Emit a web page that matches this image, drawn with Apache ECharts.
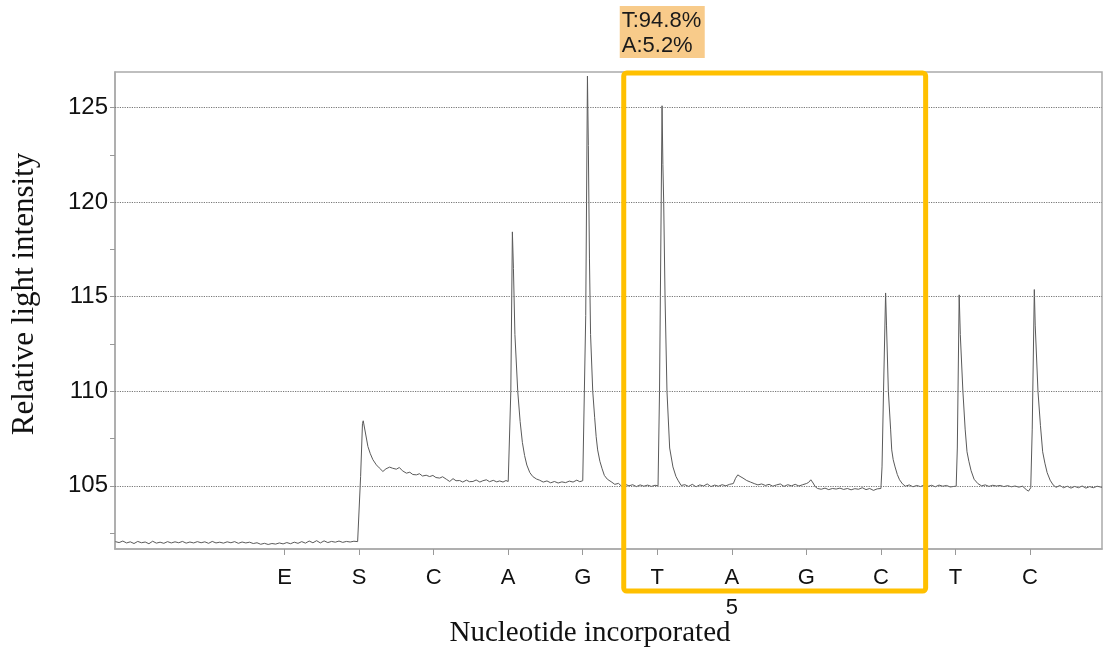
<!DOCTYPE html>
<html>
<head>
<meta charset="utf-8">
<script src="https://cdn.jsdelivr.net/npm/echarts@6/dist/echarts.min.js"></script>
<style>
html,body{margin:0;padding:0;background:#fff;}
#chart{width:1104px;height:650px;}
</style>
</head>
<body>
<div id="chart"></div>
<script>
// ---------- data ----------
const categories = ['E','S','C','A','G','T','A','G','C','T','C'];
const dispensationNumbers = ['', '', '', '', '', '', '5', '', '', '', ''];
const yMajorTicks = [105, 110, 115, 120, 125];
const yMinorTicks = [102.5, 107.5, 112.5, 117.5, 122.5];
const xRange = [-2.275, 10.966];
const yRange = [101.66, 126.885];
const highlightRange = [4.55, 8.6];
const highlightText = ['T:94.8%', 'A:5.2%'];
const xAxisTitle = 'Nucleotide incorporated';
const yAxisTitle = 'Relative light intensity';

// trace [position, intensity]
const tracePreS = [
[-2.27,102.05],[-2.22,102.0],[-2.17,102.08],[-2.12,101.98],[-2.07,102.04],[-2.02,101.95],[-1.97,102.06],[-1.92,101.99],
[-1.87,102.03],[-1.82,101.94],[-1.77,102.07],[-1.72,101.97],[-1.67,102.02],[-1.62,101.96],[-1.57,102.05],[-1.52,101.98],
[-1.47,102.04],[-1.42,101.99],[-1.37,102.06],[-1.32,101.97],[-1.27,102.03],[-1.22,101.98],[-1.17,102.05],[-1.12,101.99],
[-1.07,102.04],[-1.02,101.96],[-0.97,102.06],[-0.92,101.98],[-0.87,102.02],[-0.82,101.97],[-0.77,102.04],[-0.72,101.99],
[-0.67,102.05],[-0.62,101.96],[-0.57,102.03],[-0.52,101.98],[-0.47,102.02],[-0.42,101.95],[-0.37,101.99],[-0.32,101.91],
[-0.27,101.96],[-0.22,101.9],[-0.17,101.95],[-0.12,101.92],[-0.07,101.98],[-0.02,101.93],[0.03,102.0],[0.08,101.94],
[0.13,102.02],[0.18,101.96],[0.23,102.05],[0.28,101.97],[0.33,102.08],[0.38,101.99],[0.43,102.1],[0.48,101.98],
[0.53,102.09],[0.58,102.0],[0.63,102.06],[0.68,102.02],[0.73,102.08],[0.78,102.01],[0.83,102.06],[0.88,102.03],
[0.93,102.07],[0.98,102.05]
];
const traceS = [
[1.0,102.06],[1.02,105.5],[1.045,108.3],[1.055,108.44],[1.08,107.9],[1.118,107.08],[1.15,106.7],[1.185,106.38],
[1.231,106.11],[1.27,105.95],[1.319,105.76],[1.36,105.9],[1.409,105.99],[1.45,105.93],[1.499,105.88],[1.54,105.97],
[1.58,105.8],[1.634,105.67],[1.68,105.72],[1.72,105.6],[1.768,105.58],[1.81,105.64],[1.85,105.52],[1.9,105.56],
[1.946,105.49],[1.99,105.55],[2.03,105.44],[2.081,105.41],[2.12,105.48],[2.17,105.35],[2.215,105.23],[2.26,105.38],
[2.3,105.27],[2.349,105.28],[2.39,105.2],[2.44,105.3],[2.48,105.22],[2.527,105.23],[2.57,105.31],[2.62,105.2],
[2.66,105.27],[2.707,105.32],[2.75,105.22],[2.8,105.29],[2.846,105.21],[2.886,105.26],[2.93,105.2],[2.97,105.28],[3.0,105.23]
];
const traceA = [
[3.02,105.22],[3.035,110],[3.056,118.43],[3.07,116.5],[3.09,113],[3.128,110],[3.16,108.4],[3.19,107.3],
[3.22,106.6],[3.25,106.1],[3.29,105.7],[3.33,105.49],[3.38,105.36],[3.42,105.3],[3.47,105.2],[3.52,105.26],
[3.57,105.16],[3.62,105.23],[3.67,105.15],[3.72,105.21],[3.77,105.17],[3.82,105.25],[3.87,105.2],[3.92,105.3],
[3.96,105.22],[4.0,105.27],[4.025,105.24]
];
const traceG = [
[4.04,114],[4.063,126.67],[4.075,123],[4.09,117],[4.105,113],[4.134,110],[4.16,108.6],[4.18,107.6],
[4.2,106.9],[4.23,106.3],[4.26,105.9],[4.29,105.55],[4.33,105.35],[4.38,105.22],[4.43,105.08],[4.48,105.13],
[4.52,104.98],[4.57,105.08],[4.62,105.0],[4.67,105.06],[4.72,104.96],[4.77,105.05],[4.82,104.98],[4.87,105.04],
[4.92,104.97],[4.97,105.03],[5.01,105.0]
];
const traceT = [
[5.03,110],[5.064,125.1],[5.075,122],[5.086,120],[5.104,115],[5.13,110],[5.166,107],[5.21,106],
[5.25,105.5],[5.277,105.3],[5.32,105.02],[5.37,105.06],[5.42,104.97],[5.47,105.08],[5.52,104.95],[5.57,105.05],
[5.62,104.99],[5.67,105.1],[5.72,104.96],[5.77,105.04],[5.82,104.98],[5.87,105.06],[5.92,105.0],[5.97,105.08]
];
const traceAG = [
[6.02,105.12],[6.05,105.4],[6.08,105.58],[6.11,105.5],[6.15,105.41],[6.2,105.28],[6.25,105.2],[6.3,105.12],
[6.35,105.05],[6.4,105.1],[6.45,105.02],[6.5,105.08],[6.55,104.98],[6.6,105.05],[6.65,105.1],[6.7,104.97],
[6.75,105.06],[6.8,105.0],[6.85,105.08],[6.9,104.99],[6.95,105.06],[7.0,105.12],[7.03,105.18],[7.06,105.32],
[7.09,105.15],[7.12,104.95],[7.15,104.86],[7.2,104.82],[7.25,104.88],[7.3,104.8],[7.35,104.86],[7.4,104.83],
[7.45,104.88],[7.5,104.81],[7.55,104.86],[7.6,104.79],[7.65,104.85],[7.7,104.82],[7.75,104.9],[7.8,104.8],
[7.85,104.86],[7.9,104.76],[7.95,104.84],[8.0,104.86]
];
const traceC = [
[8.015,106],[8.035,110],[8.063,115.2],[8.075,113.5],[8.1,110],[8.13,108],[8.145,106.9],[8.165,106.38],
[8.19,106.0],[8.22,105.6],[8.25,105.32],[8.29,105.1],[8.33,104.98],[8.38,105.05],[8.43,104.95],[8.48,105.02],
[8.53,104.96],[8.58,105.04],[8.63,104.97],[8.68,105.03],[8.73,104.95],[8.78,105.04],[8.83,104.98],[8.88,105.02],
[8.93,104.94],[8.98,104.97],[9.01,104.98]
];
const traceT9 = [
[9.025,107],[9.05,115.1],[9.065,113],[9.1,110],[9.13,108],[9.155,106.8],[9.18,106.3],[9.21,105.8],
[9.25,105.35],[9.3,105.12],[9.35,105.0],[9.4,105.05],[9.45,104.97],[9.5,105.03],[9.55,104.99],[9.6,105.02],
[9.65,104.96],[9.7,105.01],[9.75,104.95],[9.8,104.99],[9.85,104.93],[9.9,104.98],[9.95,104.8],[9.98,104.72],[10.01,104.9]
];
const traceC10 = [
[10.03,108],[10.058,115.38],[10.07,113.5],[10.107,110],[10.14,108.2],[10.17,106.8],[10.2,106.2],[10.23,105.7],
[10.27,105.3],[10.31,105.05],[10.35,104.92],[10.4,105.02],[10.45,104.9],[10.5,104.98],[10.55,104.88],[10.6,104.97],
[10.65,104.9],[10.7,104.99],[10.75,104.88],[10.8,104.96],[10.85,104.9],[10.9,104.98],[10.966,104.92]
];

const trace = [].concat(tracePreS, traceS, traceA, traceG, traceT, traceAG, traceC, traceT9, traceC10);

// ---------- chart ----------
const chart = echarts.init(document.getElementById('chart'), null, {renderer: 'canvas'});
const sans = 'Liberation Sans, Arial, sans-serif';
const serif = 'Liberation Serif, Times New Roman, serif';

chart.setOption({
  animation: false,
  backgroundColor: '#fff',
  grid: {left: 115, right: 2, top: 72, bottom: 101, show: true, borderColor: '#aaa', borderWidth: 1.5, containLabel: false},
  xAxis: {
    type: 'value', min: xRange[0], max: xRange[1],
    axisLine: {show: true, onZero: false, lineStyle: {color: '#aaa', width: 1.5}},
    axisTick: {show: true, customValues: categories.map((c, i) => i), length: 6, lineStyle: {color: '#999'}},
    axisLabel: {
      customValues: categories.map((c, i) => i),
      formatter: v => { const i = Math.round(v); return dispensationNumbers[i] ? categories[i] + '\n' + dispensationNumbers[i] : categories[i]; },
      fontSize: 22, color: '#111', fontFamily: sans, margin: 14, lineHeight: 30, verticalAlign: 'top'
    },
    splitLine: {show: false}
  },
  yAxis: {
    type: 'value', min: yRange[0], max: yRange[1],
    axisLine: {show: true, onZero: false, lineStyle: {color: '#aaa', width: 1.5}},
    axisTick: {show: true, customValues: yMajorTicks.concat(yMinorTicks), length: 5, lineStyle: {color: '#999'}},
    axisLabel: {customValues: yMajorTicks, fontSize: 24, color: '#111', fontFamily: sans, margin: 7},
    splitLine: {show: false}
  },
  series: [{
    type: 'line', data: trace, showSymbol: false, symbol: 'none',
    lineStyle: {color: '#5a5a5a', width: 1}, silent: true,
    markLine: {
      silent: true, symbol: 'none', label: {show: false},
      lineStyle: {type: 'dotted', color: '#777', width: 1.2},
      data: yMajorTicks.map(v => ({yAxis: v}))
    }
  }]
});

const xa = chart.convertToPixel({xAxisIndex: 0}, highlightRange[0]);
const xb = chart.convertToPixel({xAxisIndex: 0}, highlightRange[1]);
const yTop = chart.convertToPixel({yAxisIndex: 0}, yRange[1]);
const yBot = chart.convertToPixel({yAxisIndex: 0}, yRange[0]);

chart.setOption({
  graphic: [
    {type: 'rect', shape: {x: xa, y: yTop + 1, width: xb - xa, height: (yBot + 42) - (yTop + 1), r: 3},
     style: {fill: 'none', stroke: '#FFC000', lineWidth: 5}, z: 100},
    {type: 'rect', shape: {x: xa - 4, y: 6, width: 85, height: 52},
     style: {fill: '#F8CB8A'}, z: 100},
    {type: 'text', x: xa - 2, y: 8, style: {text: highlightText.join('\n'), lineHeight: 25, fill: '#1a1a1a', font: '22px ' + sans}, z: 101},
    {type: 'text', x: 590, y: 633, style: {text: xAxisTitle, font: '29px ' + serif, fill: '#111', textAlign: 'center', textVerticalAlign: 'middle'}, z: 101},
    {type: 'text', x: 25, y: 294, rotation: Math.PI / 2, style: {text: yAxisTitle, font: '31px ' + serif, fill: '#111', textAlign: 'center', textVerticalAlign: 'middle'}, z: 101}
  ]
});
</script>
</body>
</html>
